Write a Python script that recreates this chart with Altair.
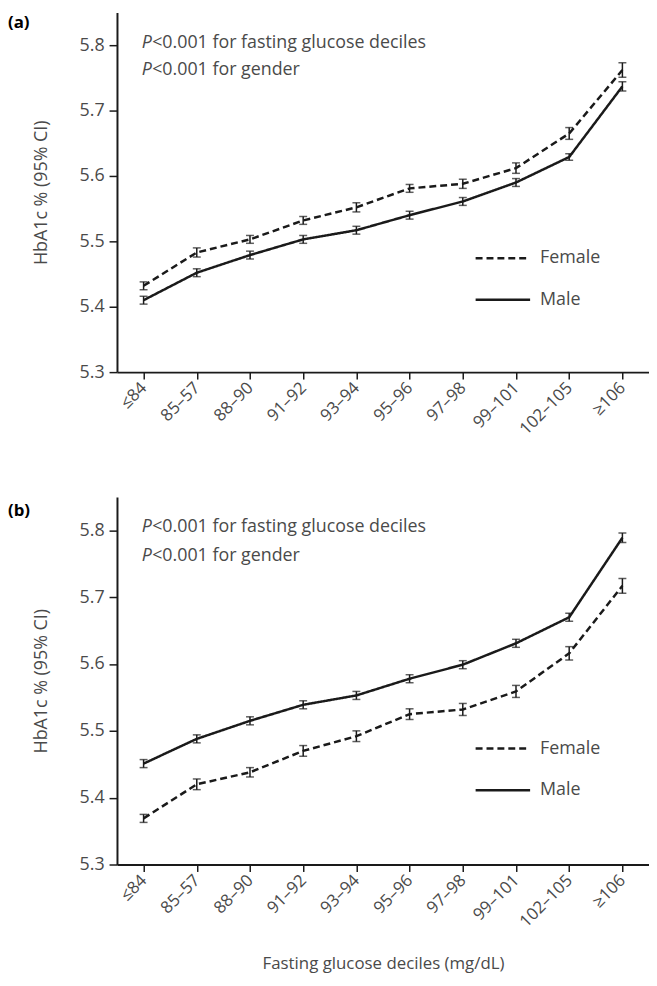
import altair as alt
import pandas as pd

deciles = ["≤84", "85–57", "88–90", "91–92", "93–94", "95–96", "97–98", "99–101", "102–105", "≥106"]
series = ["Female", "Male"]
panel_labels = ["(a)", "(b)"]
p_texts = ["<0.001 for fasting glucose deciles", "<0.001 for gender"]
y_ticks = [5.3, 5.4, 5.5, 5.6, 5.7, 5.8]

a_female = [5.432, 5.483, 5.503, 5.532, 5.552, 5.581, 5.588, 5.612, 5.665, 5.762]
a_female_err = [0.006, 0.007, 0.006, 0.006, 0.007, 0.006, 0.007, 0.008, 0.009, 0.011]
a_male = [5.410, 5.452, 5.479, 5.503, 5.517, 5.540, 5.561, 5.590, 5.629, 5.737]
a_male_err = [0.006, 0.006, 0.006, 0.006, 0.006, 0.006, 0.006, 0.006, 0.005, 0.007]

b_female = [5.369, 5.420, 5.438, 5.470, 5.492, 5.525, 5.532, 5.559, 5.616, 5.717]
b_female_err = [0.006, 0.008, 0.007, 0.008, 0.008, 0.008, 0.009, 0.009, 0.010, 0.011]
b_male = [5.451, 5.488, 5.515, 5.539, 5.553, 5.578, 5.599, 5.631, 5.670, 5.789]
b_male_err = [0.006, 0.006, 0.006, 0.006, 0.006, 0.006, 0.006, 0.006, 0.006, 0.007]

FONT = "Open Sans"
GRAY = "#4a4a4a"
INK = "#1a1a1a"
W = 537


def build_df(female, ferr, male, merr):
    rows = []
    for sex, vals, errs in (("Female", female, ferr), ("Male", male, merr)):
        for d, v, e in zip(deciles, vals, errs):
            rows.append({"decile": d, "sex": sex, "mean": v, "lo": v - e, "hi": v + e})
    return pd.DataFrame(rows)


def panel(label, female, ferr, male, merr, height, label_y, ann_y, leg_y, show_xtitle):
    df = build_df(female, ferr, male, merr)
    xaxis = alt.Axis(
        labelAngle=-45, labelAlign="right", labelBaseline="middle", labelPadding=6,
        labelFontSize=17, labelColor=GRAY, labelFont=FONT,
        domainColor=INK, domainWidth=2, tickColor=INK, tickWidth=1.5, tickSize=7,
        grid=False,
        title="Fasting glucose deciles (mg/dL)" if show_xtitle else None,
        titleFont=FONT, titleFontSize=17, titleFontWeight="normal", titleColor=GRAY,
        titleY=100, titleBaseline="middle",
    )
    yaxis = alt.Axis(
        values=y_ticks, format=".1f", labelFontSize=18, labelColor=GRAY, labelFont=FONT,
        labelPadding=5, domainColor=INK, domainWidth=2, tickColor=INK, tickWidth=1.5,
        tickSize=8, grid=False,
        title="HbA1c % (95% CI)", titleFont=FONT, titleFontSize=18,
        titleFontWeight="normal", titleColor=GRAY, titleX=-76, titleY=height / 2,
        titleBaseline="middle", titleAlign="center", titleAngle=-90,
    )
    x = alt.X("decile:N", sort=deciles, scale=alt.Scale(type="point", padding=0.5), axis=xaxis)
    ysc = alt.Scale(domain=[5.3, 5.85], nice=False, zero=False)
    dash = alt.StrokeDash("sex:N", scale=alt.Scale(domain=series, range=[[7, 4], [1, 0]]), legend=None)

    base = alt.Chart(df)
    lines = base.mark_line(color=INK, strokeWidth=2.5).encode(
        x=x, y=alt.Y("mean:Q", scale=ysc, axis=yaxis), strokeDash=dash, detail="sex:N"
    )
    rules = base.mark_rule(color=INK, strokeWidth=1.5).encode(
        x=x, y=alt.Y("lo:Q", scale=ysc, axis=yaxis), y2="hi:Q"
    )
    cap_lo = base.mark_tick(color=INK, size=8, thickness=1.5).encode(
        x=x, y=alt.Y("lo:Q", scale=ysc, axis=yaxis)
    )
    cap_hi = base.mark_tick(color=INK, size=8, thickness=1.5).encode(
        x=x, y=alt.Y("hi:Q", scale=ysc, axis=yaxis)
    )

    one = alt.Data(values=[{}])
    layers = [lines, rules, cap_lo, cap_hi]
    layers.append(
        alt.Chart(one).mark_text(font=FONT, fontSize=17, fontWeight="bold", color="#000",
                                 align="left", baseline="middle").encode(
            x=alt.value(-110), y=alt.value(label_y), text=alt.value(label))
    )
    for i, t in enumerate(p_texts):
        layers.append(
            alt.Chart(one).mark_text(font=FONT, fontSize=18, fontStyle="italic", color=GRAY,
                                     align="left", baseline="middle").encode(
                x=alt.value(25), y=alt.value(ann_y[i]), text=alt.value("P"))
        )
        layers.append(
            alt.Chart(one).mark_text(font=FONT, fontSize=18, color=GRAY,
                                     align="left", baseline="middle").encode(
                x=alt.value(35.5), y=alt.value(ann_y[i]), text=alt.value(t))
        )
    dashes = [[7, 4], [1, 0]]
    for i, s in enumerate(series):
        layers.append(
            alt.Chart(one).mark_rule(color=INK, strokeWidth=2.5, strokeDash=dashes[i]).encode(
                x=alt.value(362), x2=alt.value(417), y=alt.value(leg_y[i]))
        )
        layers.append(
            alt.Chart(one).mark_text(font=FONT, fontSize=18, color=GRAY,
                                     align="left", baseline="middle").encode(
                x=alt.value(427), y=alt.value(leg_y[i]), text=alt.value(s))
        )
    return alt.layer(*layers).properties(width=W, height=height)


top = panel(panel_labels[0], a_female, a_female_err, a_male, a_male_err,
            363, 11, [31, 58], [248, 290], False)
bottom = panel(panel_labels[1], b_female, b_female_err, b_male, b_male_err,
               371, 14, [30, 60], [254, 296], True)

chart = alt.vconcat(top, bottom, spacing=60).properties(padding=0).configure_view(strokeWidth=0)

chart.save("out.html", embed_options={"renderer": "svg", "actions": False})
